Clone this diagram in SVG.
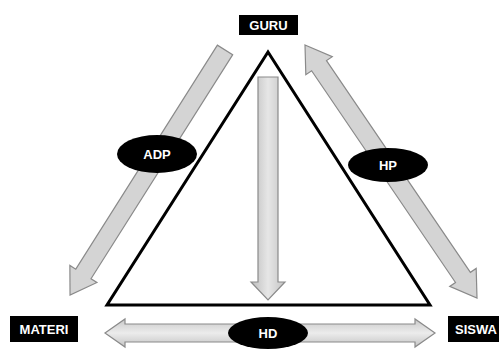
<svg xmlns="http://www.w3.org/2000/svg" width="499" height="349" viewBox="0 0 499 349">
<defs>
<linearGradient id="gv" x1="0" y1="0" x2="1" y2="0">
<stop offset="0" stop-color="#bdbdbd"/><stop offset="0.5" stop-color="#e6e6e6"/><stop offset="1" stop-color="#c4c4c4"/>
</linearGradient>
<linearGradient id="gh" x1="0" y1="0" x2="0" y2="1">
<stop offset="0" stop-color="#c8c8c8"/><stop offset="0.5" stop-color="#ececec"/><stop offset="1" stop-color="#c4c4c4"/>
</linearGradient>
</defs>
<style>
.arr{stroke:#8a8a8a;stroke-width:1.2;stroke-linejoin:miter}
.diag{fill:#d4d4d4}
.lbl{fill:#000}
.t{fill:#fff;font-family:"Liberation Sans",Arial,sans-serif;font-weight:bold;font-size:13px;text-anchor:middle;dominant-baseline:central}
.tri{fill:none;stroke:#000;stroke-width:3;stroke-linejoin:miter}
</style>
<rect width="499" height="349" fill="#fff"/>
<g id="connectors">
<polygon class="tri" points="268,52 430,305 107,305"/>
<!-- ADP arrow: GURU to MATERI -->
<polygon class="arr diag" transform="translate(225,50) rotate(122.3)" points="0,-9 265,-9 265,-16 290,0 265,16 265,9 0,9"/>
<!-- HP double arrow: GURU <-> SISWA -->
<polygon class="arr diag" transform="translate(305,45) rotate(55.8)" points="0,0 25,-16 25,-9 281,-9 281,-16 306,0 281,16 281,9 25,9 25,16"/>
<!-- vertical arrow -->
<polygon class="arr" fill="url(#gv)" points="258,77 278,77 278,282 285,282 268,300 251,282 258,282"/>
<!-- HD double arrow -->
<polygon class="arr" fill="url(#gh)" points="105,333 125,319 125,324 415,324 415,319 435,333 415,347 415,342 125,342 125,347"/>
</g>
<g id="guru"><rect class="lbl" x="239" y="15" width="59" height="20"/><text class="t" x="268.5" y="25.5">GURU</text></g>
<g id="materi"><rect class="lbl" x="10" y="316" width="68" height="26"/><text class="t" x="44" y="329">MATERI</text></g>
<g id="siswa"><rect class="lbl" x="448" y="316" width="60" height="26"/><text class="t" x="476" y="329">SISWA</text></g>
<g id="adp"><ellipse class="lbl" cx="157" cy="154" rx="40" ry="19"/><text class="t" x="157" y="154">ADP</text></g>
<g id="hp"><ellipse class="lbl" cx="388" cy="165" rx="40" ry="17"/><text class="t" x="388" y="165">HP</text></g>
<g id="hd"><ellipse class="lbl" cx="268" cy="333" rx="40" ry="16"/><text class="t" x="268" y="333">HD</text></g>
</svg>
